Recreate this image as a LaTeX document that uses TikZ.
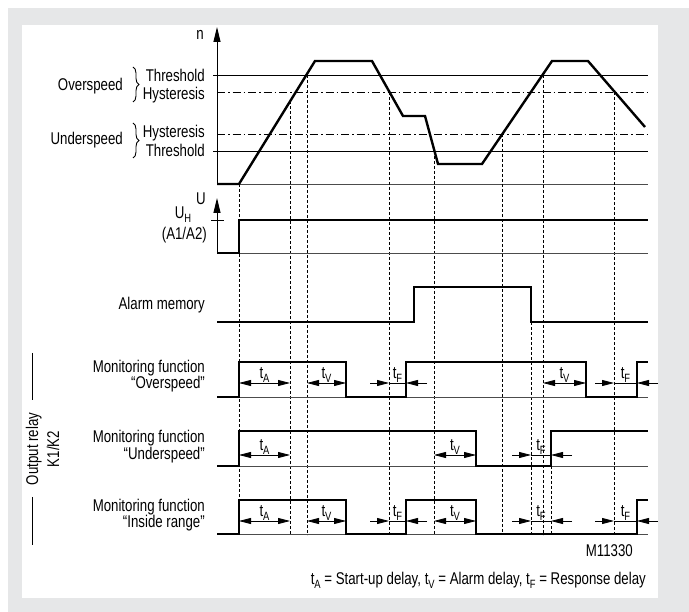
\documentclass[tikz,border=0pt]{standalone}
\usepackage{fontspec}
\setmainfont{Liberation Sans}[FakeStretch=0.78]
\usetikzlibrary{arrows.meta, decorations.pathreplacing}
\definecolor{framegray}{RGB}{230,231,232}
\newcommand{\lowsub}[2]{#1\raisebox{-4pt}{\fontsize{12}{12}\selectfont #2}}
\tikzstyle{txt} = [inner sep=0pt, font=\fontsize{17}{17}\selectfont]
\tikzstyle{signal} = [line width=2.4pt, line join=miter]
\tikzstyle{zeroline} = [line width=0.8pt, black!70]
\tikzstyle{thresh} = [line width=0.8pt]
\tikzstyle{hyst} = [line width=0.8pt, dash pattern=on 8pt off 3pt on 1.5pt off 3pt]
\tikzstyle{guide} = [line width=0.7pt, dash pattern=on 3pt off 2pt]
\tikzstyle{axis} = [line width=0.9pt, -{Triangle[length=15pt,width=7pt]}]
\tikzstyle{dim} = [line width=0.8pt, {Triangle[length=12pt,width=6pt]}-{Triangle[length=12pt,width=6pt]}]
\tikzstyle{dimin} = [line width=0.8pt, -{Triangle[length=12pt,width=6pt]}]
\tikzstyle{bracket} = [line width=0.9pt, decorate, decoration={brace, amplitude=6pt}]

\begin{document}
\begin{tikzpicture}[x=1pt, y=-1pt]
          \useasboundingbox (0,0) rectangle (689,612);
          \fill[framegray] (8,8) rectangle (689,612); %
          \fill[white] (22,25) rectangle (658,598); %

          %% Speed n
          \draw[thresh] (213,75)  -- (648,75); %
          \draw[hyst]   (217,92)  -- (648,92); %
          \draw[hyst]   (217,134) -- (648,134); %
          \draw[thresh] (213,151) -- (648,151); %
          \draw[zeroline] (217,184) -- (648,184); %
          \draw[axis] (217,184) -- (217,27); %
          \draw[signal] (217,184) -- (239,184) -- (315,61) -- (372,61) -- (403,116) -- (425,116)
                        -- (438,164) -- (482,164) -- (552,61) -- (588,61) -- (645,127); %

          \node (n)    [txt, anchor=base]      at (200,40)  {n}; %
          \node (oth)  [txt, anchor=base east] at (205,82)  {Threshold}; %
          \node (ohy)  [txt, anchor=base east] at (205,100) {Hysteresis}; %
          \node (uhy)  [txt, anchor=base east] at (205,138) {Hysteresis}; %
          \node (uth)  [txt, anchor=base east] at (205,157) {Threshold}; %
          \node (over) [txt, anchor=base east] at (123,91)  {Overspeed}; %
          \node (under)[txt, anchor=base east] at (123,145) {Underspeed}; %
          \draw[bracket] (133,67)  -- (133,102); %
          \draw[bracket] (133,123) -- (133,158); %

          %% Time marks
          \foreach \gx/\gy in {239/184, 290/101.5, 307/75, 389/92, 434/151, 502/134, 543/75, 614/92, 531/322, 551/466}
            \draw[guide] (\gx,\gy) -- (\gx,535); %

          %% Supply voltage
          \draw[zeroline] (217,253) -- (648,253); %
          \draw[axis] (217,253) -- (217,198); %
          \draw[thresh] (211,220) -- (224,220); %
          \draw[signal] (217,253) -- (239,253) -- (239,220) -- (648,220); %
          \node (u)    [txt, anchor=base]      at (201,205) {U}; %
          \node (uh)   [txt, anchor=base]      at (183,219) {\lowsub{U}{H}}; %
          \node (a1a2) [txt, anchor=base east] at (207,240) {(A1/A2)}; %

          %% Alarm memory
          \draw[signal] (217,322) -- (414,322) -- (414,287) -- (531,287) -- (531,322) -- (648,322); %
          \node (alarm) [txt, anchor=base east] at (205,310) {Alarm memory}; %

          %% Output relay
          \draw[zeroline] (217,397) -- (648,397); %
          \draw[signal] (217,397) -- (239,397) -- (239,362) -- (346,362) -- (346,397) -- (406,397) -- (406,362)
                        -- (586,362) -- (586,397) -- (637,397) -- (637,362) -- (648,362); %
          \draw[zeroline] (217,466) -- (648,466); %
          \draw[signal] (217,466) -- (239,466) -- (239,431) -- (476,431) -- (476,466) -- (551,466)
                        -- (551,431) -- (648,431); %
          \draw[zeroline] (217,534) -- (648,534); %
          \draw[signal] (217,534) -- (239,534) -- (239,500) -- (346,500) -- (346,534) -- (406,534) -- (406,500)
                        -- (476,500) -- (476,534) -- (637,534) -- (637,500) -- (648,500); %

          \node (ovr1) [txt, anchor=base east] at (205,373) {Monitoring function}; %
          \node (ovr2) [txt, anchor=base east] at (205,389) {“Overspeed”}; %
          \node (und1) [txt, anchor=base east] at (205,443) {Monitoring function}; %
          \node (und2) [txt, anchor=base east] at (205,460) {“Underspeed”}; %
          \node (ins1) [txt, anchor=base east] at (205,512) {Monitoring function}; %
          \node (ins2) [txt, anchor=base east] at (205,528) {“Inside range”}; %

          \node (relay) [txt, rotate=90, anchor=base] at (38,449) {Output relay}; %
          \node (k1k2)  [txt, rotate=90, anchor=base] at (59,449) {K1/K2}; %
          \draw[thresh] (32,353) -- (32,400); %
          \draw[thresh] (32,497) -- (32,545); %

          %% Delays
          \foreach \ya/\xa/\xb/\lab in {383/239/290/A, 383/307/346/V, 383/543/586/V, 455/239/290/A,
                                        455/434/476/V, 521/239/290/A, 521/307/346/V, 521/434/476/V}
            \draw[dim] (\xa,\ya) -- node[txt, above=0.5pt] {\lowsub{t}{\lab}} (\xb,\ya); %
          \foreach \ya/\xa/\xb in {383/389/406, 383/614/637, 455/531/551, 521/389/406, 521/531/551, 521/614/637} {
            \draw[dimin] (\xa-19,\ya) -- (\xa,\ya); %
            \draw[dimin] (\xb+21,\ya) -- (\xb,\ya); %
            \draw[line width=0.8pt] (\xa,\ya) -- node[txt, above=0.5pt] {\lowsub{t}{F}} (\xb,\ya); %
          }

          %% Legend
          \node (code)   [txt, anchor=base east] at (633,557) {M11330}; %
          \node (legend) [txt, anchor=base east] at (646,584)
                {\lowsub{t}{A} = Start-up delay, \lowsub{t}{V} = Alarm delay, \lowsub{t}{F} = Response delay}; %
        \end{tikzpicture}
\end{document}
